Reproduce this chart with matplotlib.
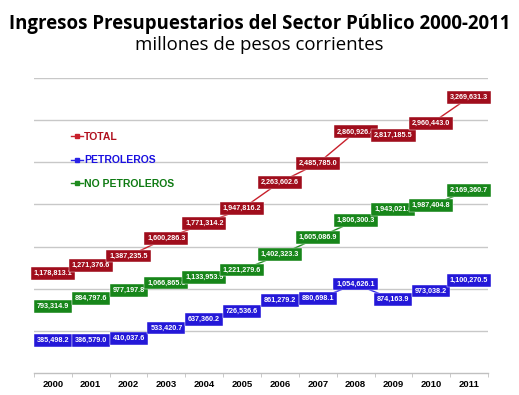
import matplotlib
matplotlib.use("Agg")
import matplotlib.pyplot as plt
from matplotlib.lines import Line2D

years = ["2000", "2001", "2002", "2003", "2004", "2005", "2006", "2007", "2008", "2009", "2010", "2011"]
total = [1178813.1, 1271376.6, 1387235.5, 1600286.3, 1771314.2, 1947816.2,
         2263602.6, 2485785.0, 2860926.4, 2817185.5, 2960443.0, 3269631.3]
petroleros = [385498.2, 386579.0, 410037.6, 533420.7, 637360.2, 726536.6,
              861279.2, 880698.1, 1054626.1, 874163.9, 973038.2, 1100270.5]
no_petroleros = [793314.9, 884797.6, 977197.8, 1066865.6, 1133953.9, 1221279.6,
                 1402323.3, 1605086.9, 1806300.3, 1943021.6, 1987404.8, 2169360.7]

series = [
    ("TOTAL", total, "#c8202c", "#a00d1c", "#b0101e"),
    ("PETROLEROS", petroleros, "#2a22e6", "#2418d8", "#1a10e0"),
    ("NO PETROLEROS", no_petroleros, "#1f8c1f", "#17861a", "#0e7a12"),
]

fig = plt.figure(figsize=(5.19, 3.95), dpi=100)
ax = fig.add_axes([34/519, 1-373/395, 454/519, 295/395])

x = list(range(len(years)))
for name, vals, lc, bc, tc in series:
    ax.plot(x, vals, color=lc, lw=1.0, zorder=3)
    for xi, v in zip(x, vals):
        ax.text(xi, v, f"{v:,.1f}", ha="center", va="center", fontsize=5.2,
                fontweight="bold", color="white", family="Liberation Sans",
                zorder=5,
                bbox=dict(boxstyle="square,pad=0.4", fc=bc, ec="#ffffff", lw=0.3))

ax.set_ylim(0, 3500000)
ax.set_xlim(-0.5, 11.5)
ax.set_yticks([i * 500000 for i in range(1, 8)])
ax.yaxis.grid(True, color="#c8c8c8", lw=1.0)
ax.set_axisbelow(True)
ax.tick_params(axis="y", left=False, labelleft=False)
for s in ["left", "right", "top"]:
    ax.spines[s].set_visible(False)
ax.spines["bottom"].set_color("#c0c0c0")
ax.spines["bottom"].set_linewidth(1.0)

ax.set_xticks(x)
ax.set_xticklabels(years, fontsize=6.8, fontweight="bold", family="Liberation Sans")
ax.set_xticks([i - 0.5 for i in range(13)], minor=True)
ax.tick_params(axis="x", which="major", length=0, pad=5)
ax.tick_params(axis="x", which="minor", length=3, color="#c0c0c0")

handles = [Line2D([0], [0], color=lc, marker="s", markersize=3.5, lw=1.0) for _, _, lc, _, _ in series]
labels = [s[0] for s in series]
leg = ax.legend(handles, labels, loc="upper left", bbox_to_anchor=(0.06, 0.85),
                frameon=False, handlelength=1.2, handletextpad=0.1, labelspacing=1.3,
                prop=dict(family="Liberation Sans", weight="bold", size=7.5))
for t, (_, _, lc, _, tc) in zip(leg.get_texts(), series):
    t.set_color(tc)

fig.text(0.5, 1-24/395, "Ingresos Presupuestarios del Sector Público 2000-2011",
         ha="center", va="center", fontsize=13.4, fontweight="bold", family="Open Sans")
fig.text(0.5, 1-45/395, "millones de pesos corrientes",
         ha="center", va="center", fontsize=13.4, family="Open Sans")

fig.savefig("out.png", dpi=100)
